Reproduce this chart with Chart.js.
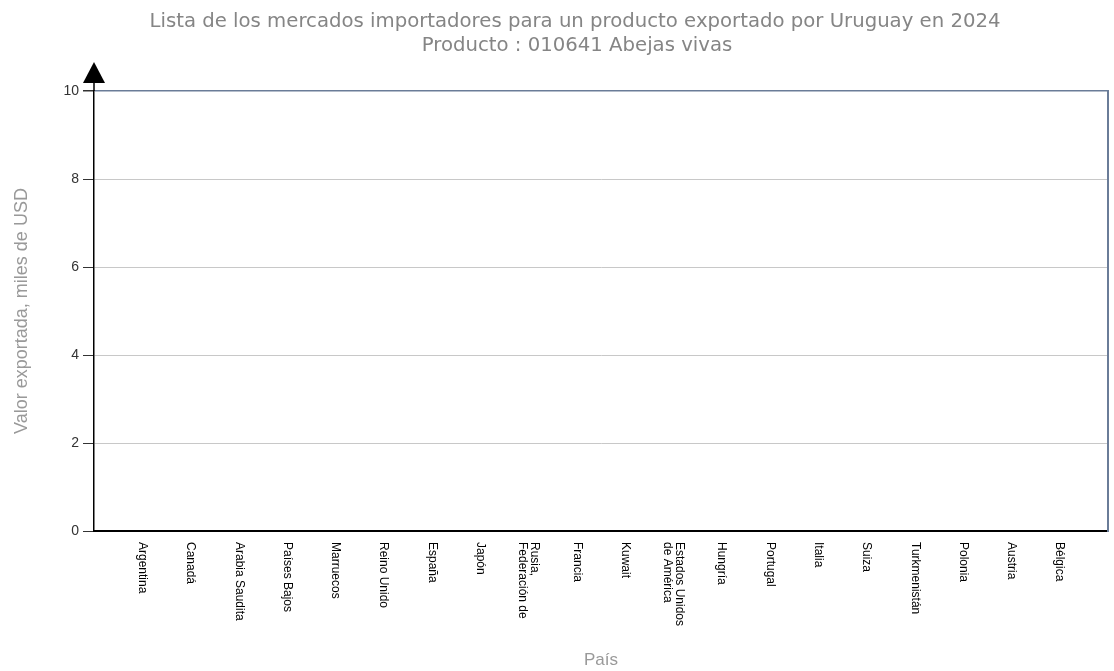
<!DOCTYPE html>
<html>
<head>
<meta charset="utf-8">
<script src="https://cdn.jsdelivr.net/npm/chart.js@4.4.0/dist/chart.umd.min.js"></script>
<style>
html,body{margin:0;padding:0;background:#fff;}
#wrap{width:1114px;height:671px;position:relative;}
</style>
</head>
<body>
<div id="wrap"><canvas id="c" width="1114" height="671"></canvas></div>
<script>
const titleLines = ['Lista de los mercados importadores para un producto exportado por Uruguay en 2024', 'Producto : 010641 Abejas vivas'];
const countries = [
  'Argentina', 'Canadá', 'Arabia Saudita', 'Países Bajos', 'Marruecos', 'Reino Unido', 'España', 'Japón',
  ['Rusia,', 'Federación de'], 'Francia', 'Kuwait', ['Estados Unidos', 'de América'], 'Hungría', 'Portugal',
  'Italia', 'Suiza', 'Turkmenistán', 'Polonia', 'Austria', 'Bélgica'
];
const values = [0, 0, 0, 0, 0, 0, 0, 0, 0, 0, 0, 0, 0, 0, 0, 0, 0, 0, 0, 0];
const yTicks = [0, 2, 4, 6, 8, 10];
const yTitle = 'Valor exportada, miles de USD';
const xTitle = 'País';

const labels = [''].concat(countries, ['']);
const data = [null].concat(values, [null]);

const decor = {
  id: 'decor',
  afterDraw(chart) {
    const ctx = chart.ctx;
    const x = chart.scales.x;
    const area = chart.chartArea;
    ctx.save();
    // title
    ctx.fillStyle = '#858585';
    ctx.font = '19.7px "DejaVu Sans"';
    ctx.textAlign = 'center';
    ctx.textBaseline = 'alphabetic';
    ctx.fillText(titleLines[0], 575, 27);
    ctx.fillText(titleLines[1], 577, 51);
    // arrow on y axis
    ctx.strokeStyle = '#000';
    ctx.lineWidth = 1.5;
    ctx.beginPath();
    ctx.moveTo(area.left, area.top);
    ctx.lineTo(area.left, area.top - 10);
    ctx.stroke();
    ctx.fillStyle = '#000';
    ctx.beginPath();
    ctx.moveTo(area.left, area.top - 29);
    ctx.lineTo(area.left - 11, area.top - 8);
    ctx.lineTo(area.left + 11, area.top - 8);
    ctx.closePath();
    ctx.fill();
    // rotated category labels
    ctx.fillStyle = '#000';
    ctx.font = '12px "Liberation Sans"';
    ctx.textAlign = 'left';
    ctx.textBaseline = 'middle';
    labels.forEach((lab, i) => {
      if (!lab || (Array.isArray(lab) && !lab.length)) return;
      const lines = Array.isArray(lab) ? lab : [lab];
      const px = x.getPixelForTick(i);
      const lh = 12;
      ctx.save();
      ctx.translate(px, area.bottom + 11);
      ctx.rotate(Math.PI / 2);
      lines.forEach((t, k) => {
        const off = (k - (lines.length - 1) / 2) * lh;
        ctx.fillText(t, 0, off);
      });
      ctx.restore();
    });
    ctx.restore();
  }
};

new Chart(document.getElementById('c'), {
  type: 'bar',
  data: {
    labels: labels,
    datasets: [{ data: data, backgroundColor: '#4f81bd', borderWidth: 0 }]
  },
  options: {
    responsive: false,
    animation: false,
    events: [],
    layout: { padding: { top: 91, left: 0, right: 0, bottom: 0 } },
    plugins: { legend: { display: false }, tooltip: { enabled: false }, title: { display: false } },
    scales: {
      x: {
        type: 'category',
        offset: false,
        grid: { display: false },
        ticks: { display: false },
        border: { display: true, color: '#000', width: 2 },
        title: { display: true, text: xTitle, color: '#999', font: { family: 'Liberation Sans', size: 17 }, padding: { top: 0, bottom: 0 } },
        afterFit(s) { s.height = 140; }
      },
      y: {
        position: 'left',
        min: 0, max: 10,
        afterBuildTicks(s) { s.ticks = yTicks.map(v => ({ value: v })); },
        ticks: { color: '#333', font: { family: 'Liberation Sans', size: 14 }, padding: 4 },
        grid: {
          color: c => (c.tick && c.tick.value === 10) ? '#6a7c98' : '#c8c8c8',
          lineWidth: c => (c.tick && c.tick.value === 10) ? 1.5 : 1,
          tickColor: '#333',
          tickLength: 11
        },
        border: { display: true, color: '#000', width: 1.5 },
        title: { display: true, text: yTitle, color: '#999', font: { family: 'Liberation Sans', size: 18 }, padding: { top: 11, bottom: 0 } },
        afterFit(s) { s.width = 94; }
      },
      y2: {
        position: 'right',
        min: 0, max: 10,
        ticks: { display: false },
        grid: { display: false, drawTicks: false },
        border: { display: true, color: '#6a7c98', width: 2 },
        afterFit(s) { s.width = 6; }
      }
    }
  },
  plugins: [decor]
});
</script>
</body>
</html>
